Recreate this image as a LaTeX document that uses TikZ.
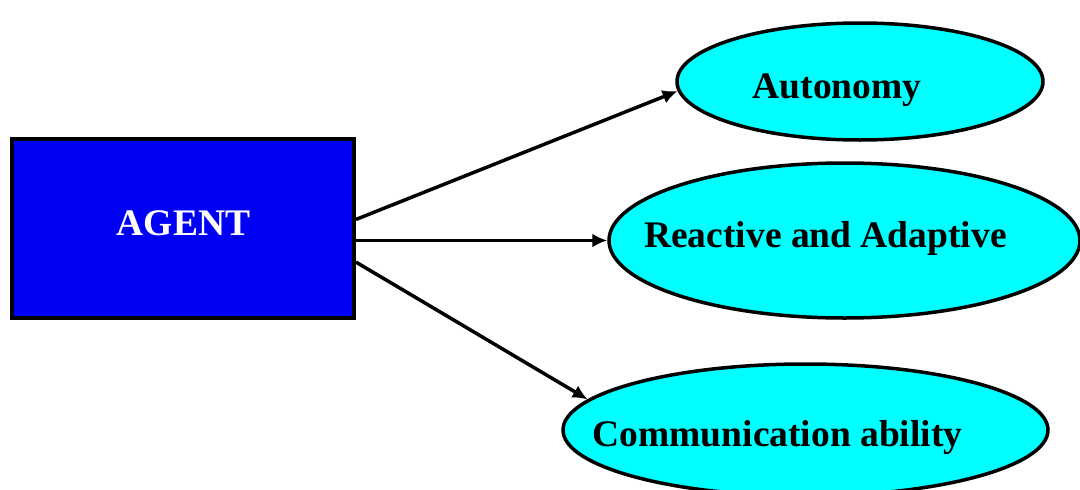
\documentclass[tikz,border=0pt]{standalone}
\usepackage{fontspec}
\setmainfont{Liberation Serif}
\usetikzlibrary{shapes.geometric,arrows.meta}
\definecolor{agentblue}{RGB}{0,0,245}
\definecolor{propcyan}{RGB}{0,255,255}
\tikzset{
  agentbox/.style={draw=black, line width=4pt, fill=agentblue, rectangle,
    inner sep=0pt},
  propshape/.style={draw=black, line width=3.5pt, fill=propcyan, ellipse,
    inner sep=0pt},
  caption/.style={anchor=base, inner sep=0pt,
    font=\fontsize{37.5}{40}\selectfont\bfseries},
  link/.style={line width=3.5pt, -{Latex[length=15pt,width=14pt]}}
}
\begin{document}
\begin{tikzpicture}[x=1pt, y=-1pt]
  \useasboundingbox (0,0) rectangle (1080,490);
  \clip (0,0) rectangle (1080,490);

  % the agent box
  \node[agentbox, minimum width=342pt, minimum height=179pt] (agent) at (183,228.5) {};
  \node[caption, text=white] (agentL) at (183.5,235) {AGENT};

  % the three properties
  \node[propshape, minimum width=366pt, minimum height=117pt] (auto) at (860,81.5) {};
  \node[caption] (autoL) at (837,98) {Autonomy};

  \node[propshape, minimum width=471pt, minimum height=155pt] (react) at (844.5,240.5) {};
  \node[caption] (reactL) at (825.5,247) {Reactive and Adaptive};

  \node[propshape, minimum width=485pt, minimum height=132pt] (comm) at (805.5,430) {};
  \node[caption] (commL) at (777.5,446) {Communication ability};

  % connectors
  \draw[link] (agent.3.8) -- (auto.183);
  \draw[link] (react.west -| agent.east) -- (react.west);
  \draw[link] (agent.-11.3) -- (comm.172);
\end{tikzpicture}
\end{document}
